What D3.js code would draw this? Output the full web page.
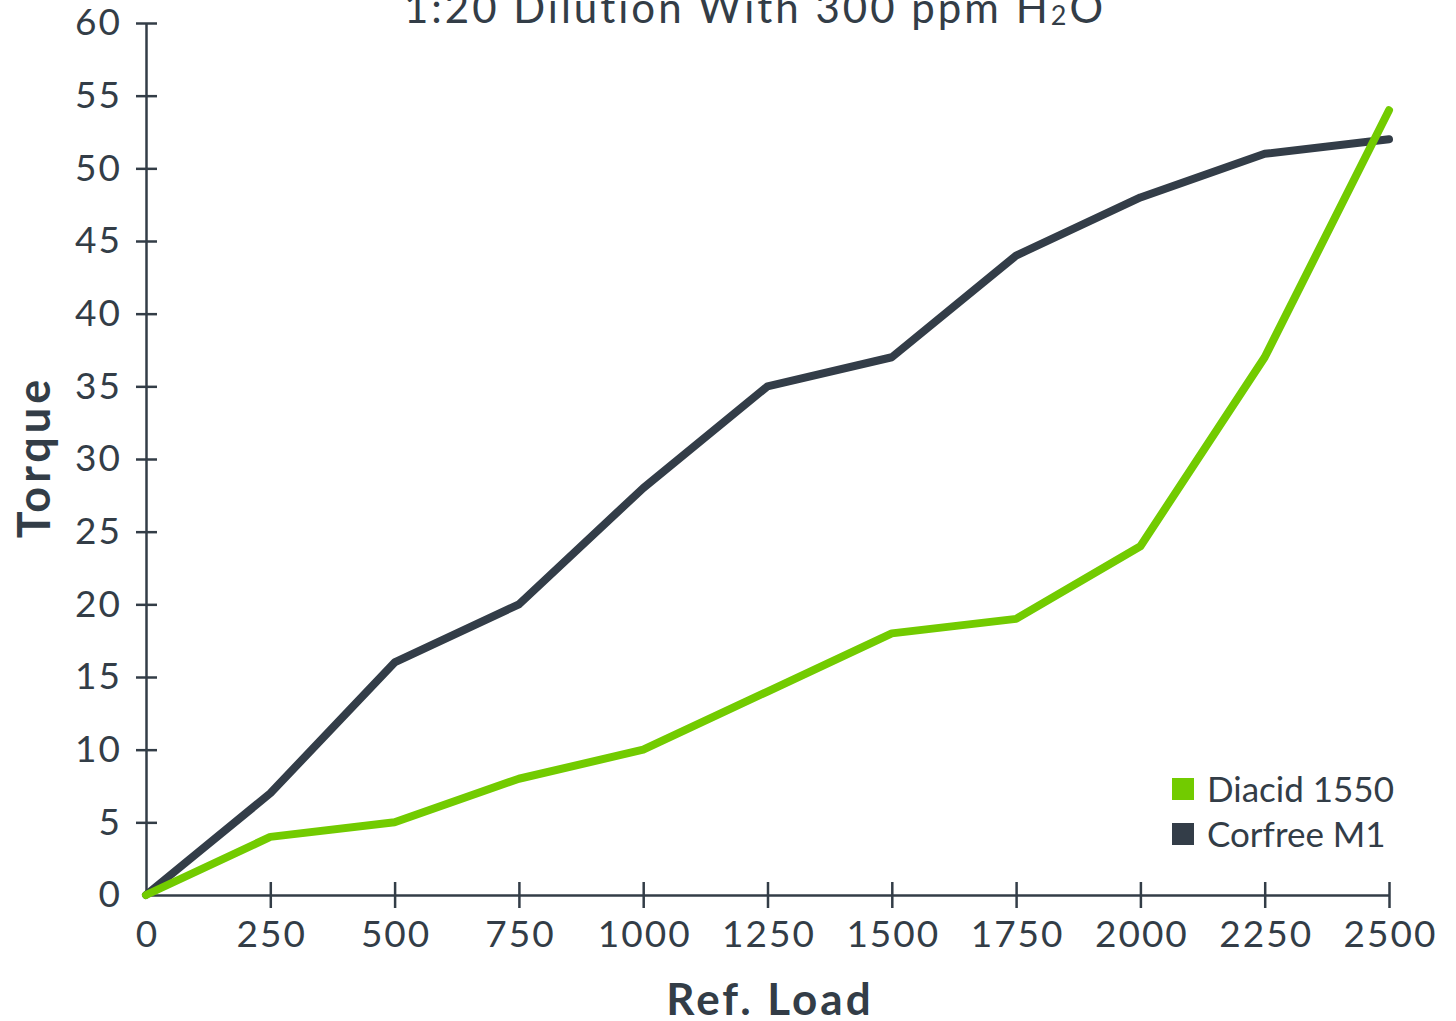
<!DOCTYPE html>
<html>
<head>
<meta charset="utf-8">
<script src="https://cdn.jsdelivr.net/npm/d3@7"></script>
<style>
  body { margin: 0; background: #fff; }
  svg text { font-family: Lato, "Open Sans", sans-serif; fill: #333d47; }
</style>
</head>
<body>
<div id="container"></div>
<script>
// values
var loads = [0, 250, 500, 750, 1000, 1250, 1500, 1750, 2000, 2250, 2500];
var diacid = [0, 4, 5, 8, 10, 14, 18, 19, 24, 37, 54];
var corfree = [0, 7, 16, 20, 28, 35, 37, 44, 48, 51, 52];
var yTicks = [0, 5, 10, 15, 20, 25, 30, 35, 40, 45, 50, 55, 60];
var seriesNames = ["Diacid 1550", "Corfree M1"];
var seriesColors = ["#72cb00", "#333d48"];

var W = 1456, H = 1021;
var ink = "#333d47";

var svg = d3.select("#container").append("svg")
    .attr("width", W).attr("height", H);

var x = d3.scaleLinear().domain([0, 2500]).range([146, 1389]);
var y = d3.scaleLinear().domain([0, 60]).range([895, 23]);

// axes
var xAxis = svg.append("g")
    .attr("transform", "translate(0," + y(0) + ")")
    .call(d3.axisBottom(x).tickValues(loads).tickSize(0).tickPadding(26).tickFormat(d3.format("d")));
xAxis.select(".domain").attr("stroke", ink).attr("stroke-width", 2.5);
xAxis.selectAll(".tick").append("line")
    .filter(function(d){ return d > 0; })
    .attr("y1", -13).attr("y2", 13)
    .attr("stroke", ink).attr("stroke-width", 2.5);
xAxis.selectAll(".tick text")
    .attr("font-size", 37).attr("letter-spacing", 2).attr("dx", 1)
    .attr("dy", "0.71em").attr("fill", ink);

var yAxis = svg.append("g")
    .attr("transform", "translate(" + x(0) + ",0)")
    .call(d3.axisLeft(y).tickValues(yTicks).tickSize(0).tickPadding(24));
yAxis.select(".domain").attr("stroke", ink).attr("stroke-width", 2.5);
yAxis.selectAll(".tick").append("line")
    .filter(function(d){ return d > 0; })
    .attr("x1", -10).attr("x2", 11)
    .attr("stroke", ink).attr("stroke-width", 2.5);
yAxis.selectAll(".tick text")
    .attr("font-size", 37).attr("letter-spacing", 2).attr("fill", ink);
svg.selectAll(".tick text").attr("font-family", "Lato, sans-serif");

// axis titles
svg.append("text")
    .attr("x", 770).attr("y", 1015)
    .attr("text-anchor", "middle")
    .attr("font-size", 44).attr("font-weight", "bold")
    .attr("letter-spacing", 3)
    .text("Ref. Load");

svg.append("text")
    .attr("transform", "translate(50,457) rotate(-90)")
    .attr("text-anchor", "middle")
    .attr("font-size", 45).attr("font-weight", "bold")
    .attr("letter-spacing", 4)
    .text("Torque");

// title (cut off at the top like the reference)
var title = svg.append("text")
    .attr("x", 755).attr("y", 23)
    .attr("text-anchor", "middle")
    .attr("font-size", 42)
    .attr("letter-spacing", 3);
title.append("tspan").text("1:20 Dilution With 300 ppm H");
title.append("tspan").attr("font-size", 27).attr("dy", 2).text("2");
title.append("tspan").attr("dy", -2).text("O");

// lines
var line = d3.line()
    .x(function(d, i){ return x(loads[i]); })
    .y(function(d){ return y(d); });

[corfree, diacid].forEach(function(vals, k){
    svg.append("path")
        .datum(vals)
        .attr("d", line)
        .attr("fill", "none")
        .attr("stroke", k == 0 ? seriesColors[1] : seriesColors[0])
        .attr("stroke-width", 8)
        .attr("stroke-linecap", "round")
        .attr("stroke-linejoin", "round");
});

// legend
var legend = svg.append("g").attr("transform", "translate(1172,778)");
seriesNames.forEach(function(name, i){
    legend.append("rect")
        .attr("x", 0).attr("y", i * 45)
        .attr("width", 22).attr("height", 22)
        .attr("fill", seriesColors[i]);
    legend.append("text")
        .attr("x", 35).attr("y", i * 45 + 11)
        .attr("dy", "0.36em")
        .attr("font-size", 35)
        .text(name);
});
</script>
</body>
</html>
